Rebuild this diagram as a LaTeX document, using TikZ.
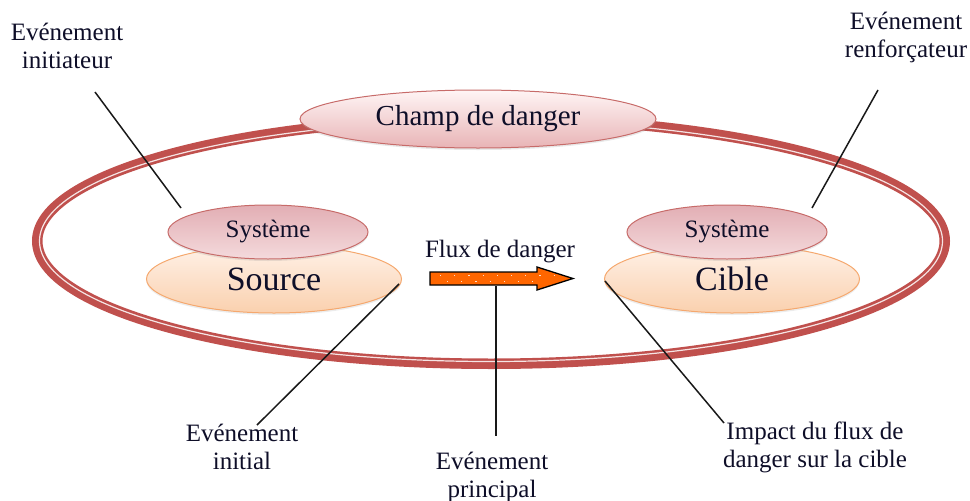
\documentclass[tikz,border=0pt]{standalone}
\usepackage{fontspec}
\setmainfont{Liberation Serif}
\usetikzlibrary{shapes.geometric,shadows}
\definecolor{ringred}{HTML}{C0504D}
\definecolor{ink}{RGB}{14,14,40}
\definecolor{pinkedge}{HTML}{C76B69}
\definecolor{peachedge}{HTML}{F5A86E}
\definecolor{fluxorange}{HTML}{FF6600}
\begin{document}
\begin{tikzpicture}[x=1pt,y=-1pt,
  lbl/.style={font=\fontsize{25}{28}\selectfont, text=ink, align=center, inner sep=0pt},
  pinkbox/.style={ellipse, draw=pinkedge, line width=1pt, top color=white!60!pink!40, bottom color={rgb,255:red,232;green,180;blue,182},
    inner sep=0pt, text=ink, drop shadow={shadow xshift=0pt, shadow yshift=-2pt, opacity=0.18}},
  sysbox/.style={pinkbox, top color={rgb,255:red,226;green,174;blue,180}, bottom color={rgb,255:red,244;green,218;blue,220},
    minimum width=200pt, minimum height=54pt, font=\fontsize{25}{28}\selectfont},
  peachbox/.style={ellipse, draw=peachedge, line width=1pt, top color={rgb,255:red,255;green,242;blue,232}, bottom color={rgb,255:red,250;green,208;blue,174},
    inner sep=0pt, text=ink, minimum width=255pt, minimum height=68pt, font=\fontsize{34}{36}\selectfont,
    drop shadow={shadow xshift=0pt, shadow yshift=-2pt, opacity=0.15}},
  lead/.style={draw=black!90, line width=1.5pt}]
\useasboundingbox (0,0) rectangle (970,501);

% danger field: double red ring
\draw[ringred, line width=10.5pt] (491,241) ellipse [x radius=453.75, y radius=122.75];
\draw[white, opacity=0.85, line width=1.2pt] (491,241) ellipse [x radius=451.5, y radius=120.5];

% field label
\node[pinkbox, minimum width=356pt, minimum height=58pt, font=\fontsize{29}{32}\selectfont] (champ) at (478,119) {Champ de danger};

% source system
\node[peachbox] (source) at (274,279) {Source};
\node[sysbox] (syssource) at (268,232) {Système};

% target system
\node[peachbox] (cible) at (732,279) {Cible};
\node[sysbox] (syscible) at (727,232) {Système};

% danger flow arrow
\node[lbl] (fluxlabel) at (500,252) {Flux de danger};
\draw[fill=fluxorange, draw=black, line width=1.3pt, line join=miter]
  (430,272) -- (537,272) -- (537,267) -- (573,278.5) -- (537,290) -- (537,285) -- (430,285) -- cycle;
\draw[white, opacity=0.8, line width=1pt, dash pattern=on 1.2pt off 13pt] (440,275) -- (560,275);
\draw[white, opacity=0.8, line width=1pt, dash pattern=on 1.2pt off 13pt] (447,281.5) -- (540,281.5);

% event labels
\node[lbl] (initiateur) at (67,46) {Evénement\\initiateur};
\node[lbl] (renforcateur) at (906,37) {Evénement\\renforçateur};
\node[lbl] (initial) at (242,447) {Evénement\\initial};
\node[lbl] (principal) at (492,477) {Evénement\\principal};
\node[lbl] (impact) at (815,447) {Impact du flux de\\danger sur la cible};

% leader line ends
\coordinate (initiateur-tip) at (95,92);
\coordinate (syssource-hit) at (181,208);
\coordinate (renforcateur-tip) at (878,90);
\coordinate (syscible-hit) at (812,208);
\coordinate (source-hit) at (399,284);
\coordinate (initial-tip) at (257,425);
\coordinate (flux-hit) at (496,286);
\coordinate (principal-tip) at (496,436);
\coordinate (cible-hit) at (605,281);
\coordinate (impact-tip) at (724,423);

\draw[lead] (initiateur-tip) -- (syssource-hit);
\draw[lead] (renforcateur-tip) -- (syscible-hit);
\draw[lead] (source-hit) -- (initial-tip);
\draw[lead] (flux-hit) -- (principal-tip);
\draw[lead] (cible-hit) -- (impact-tip);
\end{tikzpicture}
\end{document}
